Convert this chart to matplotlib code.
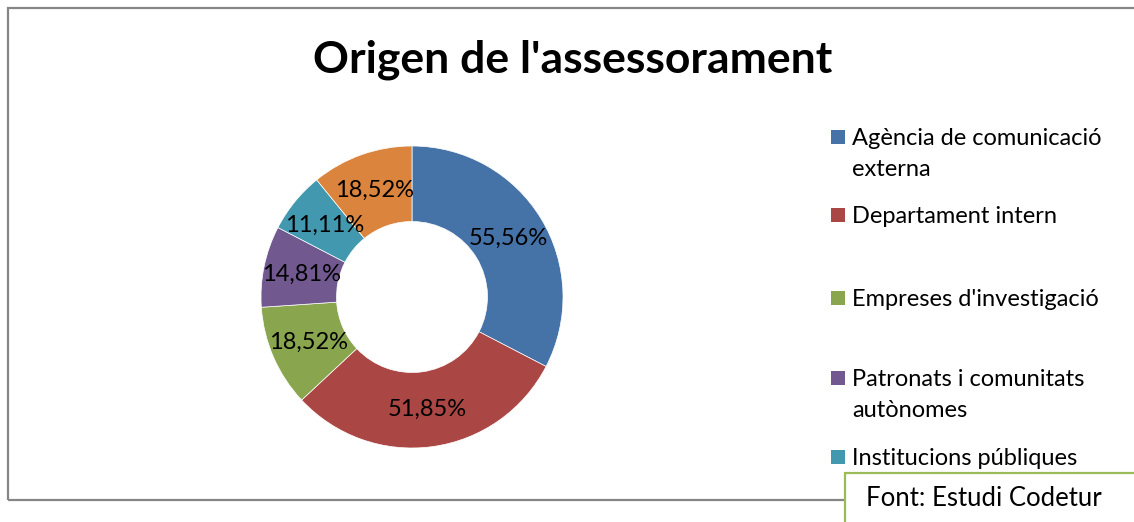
import matplotlib.pyplot as plt
from matplotlib.patches import Rectangle

plt.rcParams['font.family'] = ['Lato', 'DejaVu Sans']

W, H = 1134, 522

# data (percent of respondents, multiple answers allowed)
categories = ["Agència de comunicació\nexterna", "Departament intern",
              "Empreses d'investigació", "Patronats i comunitats\nautònomes",
              "Institucions públiques", "Altres"]
values = [55.56, 51.85, 18.52, 14.81, 11.11, 18.52]
colors = ['#4572A7', '#AA4643', '#89A54E', '#71588F', '#4198AF', '#DB843D']

title = "Origen de l'assessorament"
source = "Font: Estudi Codetur"


def px(x, y):
    # pixel coords (top-left origin) -> figure fraction
    return x / W, 1 - y / H


fig = plt.figure(figsize=(W / 100, H / 100), dpi=100)

# outer chart frame (runs off the right edge like the original)
fig.add_artist(Rectangle(px(8, 500), (W + 20) / W, 492 / H, transform=fig.transFigure,
                         facecolor='none', edgecolor='#868686', lw=1.6))

# donut
cx, cy, r = 412, 297, 151
ax = fig.add_axes([(cx - r) / W, (H - cy - r) / H, 2 * r / W, 2 * r / H])
total = sum(values)
wedges, texts, autotexts = ax.pie(
    values, colors=colors, startangle=90, counterclock=False,
    wedgeprops=dict(width=0.5, edgecolor='white', linewidth=0.5),
    autopct=lambda p: f"{p * total / 100:.2f}%".replace('.', ','),
    pctdistance=0.75, textprops=dict(fontsize=17, color='black'))
ax.set_xlim(-1, 1)
ax.set_ylim(-1, 1)
ax.set_aspect('equal')

fig.text(*px(573, 60), title, fontsize=32, fontweight='bold', ha='center', va='center')

# legend drawn by hand (Excel-like spacing, last entry cut off)
leg_y = [137, 215, 298, 378, 457]
for lab, col, y in zip(categories[:5], colors[:5], leg_y):
    fig.add_artist(Rectangle(px(831, y + 7), 14 / W, 14 / H, transform=fig.transFigure,
                             facecolor=col, edgecolor='none'))
    fig.text(*px(852, y - 9), lab, fontsize=17, ha='left', va='top', linespacing=1.6)

# source box
fig.add_artist(Rectangle(px(845, 540), 400 / W, 67 / H, transform=fig.transFigure,
                         facecolor='white', edgecolor='#9BBB59', lw=1.6))
fig.text(*px(866, 498), source, fontsize=18.5, ha='left', va='center')

fig.savefig('out.png', dpi=100)
